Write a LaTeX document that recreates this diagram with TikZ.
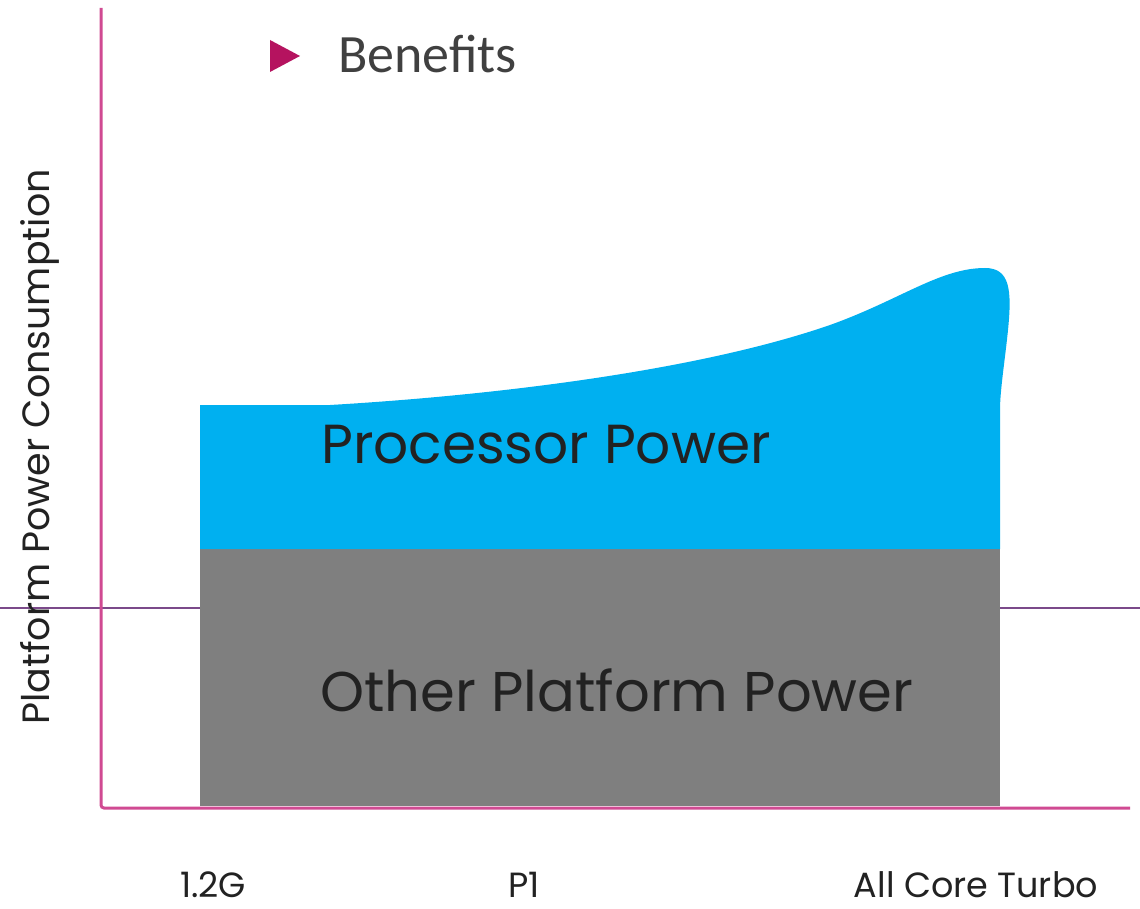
\documentclass[tikz,border=0pt]{standalone}
\usepackage{fontspec}
\setmainfont{Poppins}
\newfontfamily\benfont{Carlito}
\definecolor{procblue}{HTML}{00B0F0}
\definecolor{othergray}{HTML}{7F7F7F}
\definecolor{axispink}{HTML}{D04A92}
\definecolor{tripink}{HTML}{B5135F}
\definecolor{bentext}{HTML}{404040}
\definecolor{guideline}{HTML}{7B4A8A}
\definecolor{labelgray}{HTML}{222222}
\begin{document}
\begin{tikzpicture}[x=1pt,y=-1pt,
  axisline/.style={draw=axispink,line width=3pt,rounded corners=3pt},
  chartlabel/.style={text=labelgray,inner sep=0pt,anchor=center},
  ticklabel/.style={text=labelgray,inner sep=0pt,font=\fontsize{35}{40}\selectfont}]
\useasboundingbox (0,0) rectangle (1140,909);
\fill[white] (0,0) rectangle (1140,909);
% thin guide line
\coordinate (gl) at (0,608);
\coordinate (gr) at (1140,608);
\draw[guideline,line width=1.2pt] (gl) -- (gr);
% other platform power
\fill[othergray] (200,548) rectangle (1000,806);
% processor power
\fill[procblue] (200,549) -- (200,405) -- (330,405)
  .. controls (500,395) and (700,370) .. (830,325)
  .. controls (900,300) and (940,268) .. (985,268)
  .. controls (1010,268) and (1012,290) .. (1008,330)
  .. controls (1005,360) and (1000,390) .. (1000,410)
  -- (1000,549) -- cycle;
% axes
\coordinate (ytop) at (101,8);
\coordinate (orig) at (101,808);
\coordinate (xend) at (1130,808);
\draw[axisline] (ytop) -- (orig) -- (xend);
% texts
\node[chartlabel,font=\fontsize{55}{62}\selectfont] (proc) at (546,445) {Processor Power};
\node[chartlabel,font=\fontsize{56}{64}\selectfont] (other) at (617,690) {Other Platform Power};
\node[chartlabel,rotate=90,font=\fontsize{38}{44}\selectfont] (ylab) at (40,447) {Platform Power Consumption};
\node[ticklabel] (t1) at (213,885) {1.2G};
\node[ticklabel] (t2) at (524,885) {P1};
\node[ticklabel] (t3) at (976,885) {All Core Turbo};
% title
\fill[tripink] (270,40) -- (300,56) -- (270,72) -- cycle;
\node[text=bentext,inner sep=0pt,anchor=west,font=\benfont\fontsize{54}{60}\selectfont] (ben) at (338,54) {Benefits};
\end{tikzpicture}
\end{document}
